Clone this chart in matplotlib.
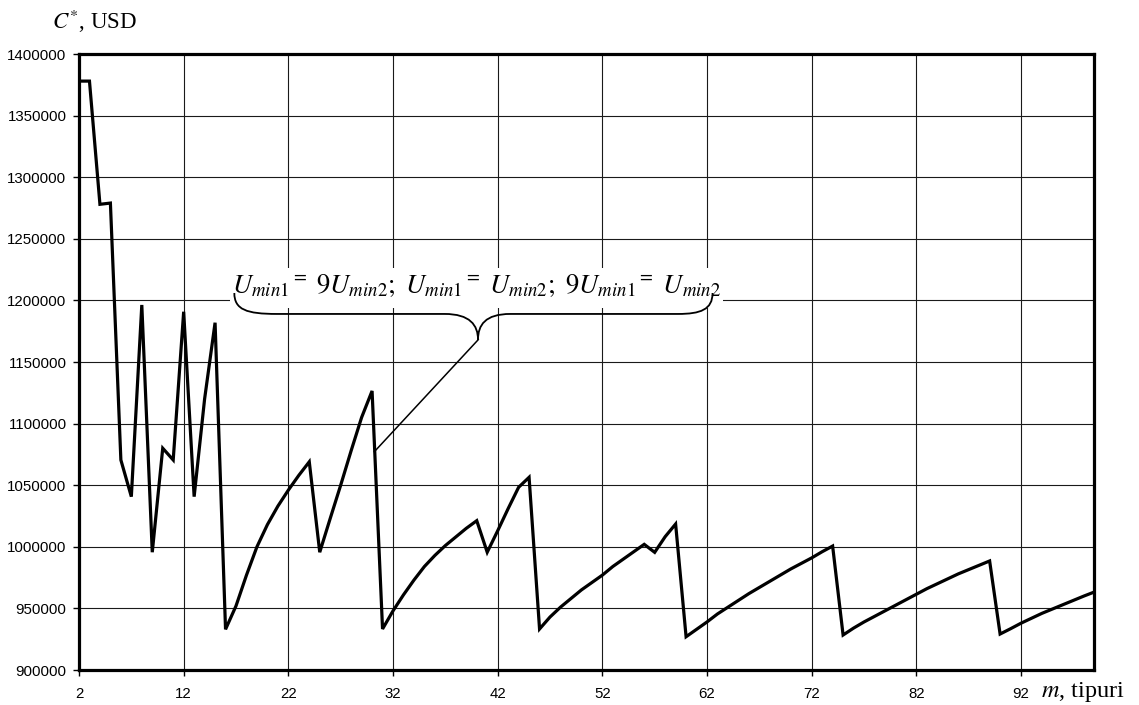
import matplotlib
matplotlib.use('Agg')
import matplotlib.pyplot as plt
import numpy as np
from matplotlib.path import Path
from matplotlib.patches import PathPatch, Rectangle

plt.rcParams['mathtext.fontset'] = 'stix'
plt.rcParams['font.family'] = ['Liberation Sans', 'DejaVu Sans']

# number of types m (category axis)
m = np.arange(2, 100)

# total cost C*, USD
cost = [1378000, 1378000, 1278000, 1279000, 1070500, 1040700, 1196300, 995600,
        1080000, 1070500, 1190800, 1040700, 1120000, 1181900,
        933000, 952000, 977000, 1000000, 1018000, 1033000, 1046000, 1058000, 1069000,
        995600, 1023000, 1050000, 1078000, 1105000, 1126500,
        933300, 948000, 961000, 973000, 984000, 993000, 1001000, 1008000, 1015000, 1021200,
        995600, 1013000, 1031000, 1048300, 1056400,
        933300, 943000, 951000, 958000, 965000, 971000, 977000, 984000, 990000, 996000, 1002000,
        995500, 1008200, 1018500,
        927000, 933000, 939000, 945500, 951000, 956500, 962000, 967000, 972000, 977000,
        982000, 986500, 991000, 996000, 1000600,
        928400, 934000, 939000, 943500, 948000, 952500, 957000, 961500, 966000, 970000,
        974000, 978000, 981500, 985000, 988500,
        929200, 933500, 938000, 942000, 946000, 949500, 953000, 956500, 960000, 963300]

xticks = [2, 12, 22, 32, 42, 52, 62, 72, 82, 92]
yticks = [900000, 950000, 1000000, 1050000, 1100000, 1150000, 1200000,
          1250000, 1300000, 1350000, 1400000]

fig = plt.figure(figsize=(11.39, 7.05), dpi=100)
ax = fig.add_axes([79/1139, 1-670/705, 1015.3/1139, 616/705])

ax.plot(m, cost, color='black', lw=2.3, solid_joinstyle='miter', zorder=3)

ax.set_xlim(2, 99)
ax.set_ylim(900000, 1400000)
ax.set_xticks(xticks)
ax.set_yticks(yticks)
ax.set_yticklabels([str(v) for v in yticks])
ax.grid(True, color='0.1', lw=0.8)
ax.set_axisbelow(True)
ax.tick_params(axis='both', labelsize=10.8, width=1, length=4, color='black')
ax.tick_params(axis='x', pad=8)
ax.tick_params(axis='y', pad=5)
for s in ax.spines.values():
    s.set_linewidth(2.3)
    s.set_zorder(4)

# annotation with brace
ax.add_patch(Rectangle((0.149, 0.588), 0.485, 0.065, transform=ax.transAxes,
                       facecolor='white', edgecolor='none', zorder=2))
ax.text(0.3916, 0.6125,
        r"$U_{min1}{}^{=}\ 9U_{min2};\ U_{min1}{}^{=}\ U_{min2};\ 9U_{min1}{}^{=}\ U_{min2}$",
        transform=ax.transAxes, ha='center', va='baseline', fontsize=19.3, zorder=5)

verts = [(0.153, 0.612), (0.153, 0.585), (0.165, 0.578), (0.195, 0.578),
         (0.36, 0.578),
         (0.385, 0.578), (0.393, 0.56), (0.393, 0.536),
         (0.393, 0.56), (0.40, 0.578), (0.425, 0.578),
         (0.59, 0.578),
         (0.612, 0.578), (0.624, 0.585), (0.624, 0.612)]
codes = [Path.MOVETO, Path.CURVE4, Path.CURVE4, Path.CURVE4,
         Path.LINETO,
         Path.CURVE4, Path.CURVE4, Path.CURVE4,
         Path.CURVE4, Path.CURVE4, Path.CURVE4,
         Path.LINETO,
         Path.CURVE4, Path.CURVE4, Path.CURVE4]
ax.add_patch(PathPatch(Path(verts, codes), transform=ax.transAxes, facecolor='none',
                       edgecolor='black', lw=1.3, zorder=5))
ax.plot([0.3932, 0.2909], [0.5362, 0.3544], transform=ax.transAxes, color='black',
        lw=1.1, zorder=5)

fig.text(52/1139, 1-29/705, r"$C^{*}$, USD", fontsize=16.5, family='Liberation Serif',
         ha='left', va='baseline')
fig.text(1041/1139, 1-697/705, r"$m$, tipuri", fontsize=17.5, family='Liberation Serif',
         ha='left', va='baseline')

fig.savefig('out.png', dpi=100)
